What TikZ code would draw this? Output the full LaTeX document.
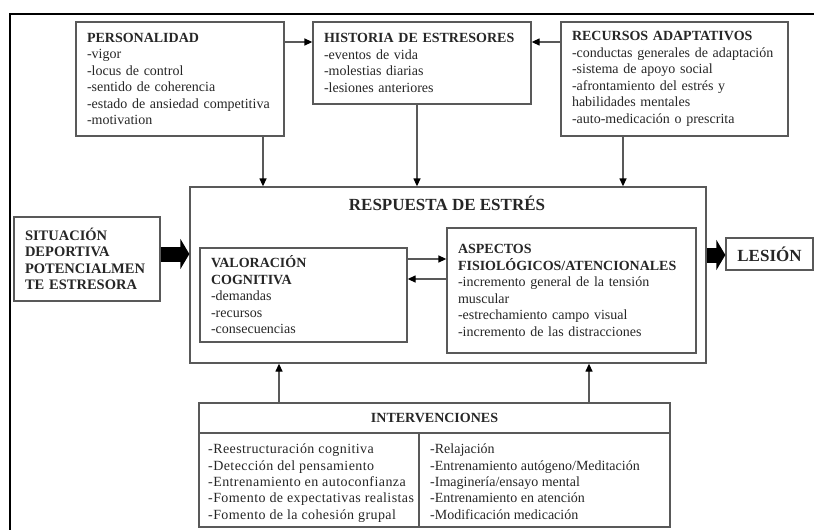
\documentclass[tikz,border=0pt]{standalone}
\usepackage{fontspec}
\setmainfont{Liberation Serif}
\usetikzlibrary{arrows.meta}
\begin{document}
\begin{tikzpicture}[x=1pt,y=-1pt,
  box/.style={draw=black!65, line width=1.3pt, rectangle, inner xsep=11pt, inner ysep=0pt, align=left, text=black!85, font=\fontsize{14}{16.5}\selectfont},
  lst/.style={anchor=north west, inner sep=0pt, align=left, text=black!85, font=\fontsize{14}{16.3}\selectfont},
  arr/.style={draw=black!65, line width=1.3pt, -{Triangle[length=8pt,width=7pt,color=black]}},
  fat/.style={draw=black, line width=15pt, -{Triangle[length=9pt,width=30pt]}}]
\useasboundingbox (0,0) rectangle (814,530);
\coordinate (fbot) at (10,531);
\coordinate (fcorner) at (10,14);
\coordinate (fright) at (815,14);
\draw[line width=2pt] (fbot) -- (fcorner) -- (fright);
\node[box, text width=186pt, minimum height=114pt] (pers) at (180,79){\textbf{PERSONALIDAD}\\-vigor\\-locus de control\\-sentido de coherencia\\-estado de ansiedad competitiva\\-motivation};
\node[box, text width=196pt, minimum height=82pt] (hist) at (422,63){\textbf{HISTORIA DE ESTRESORES}\\-eventos de vida\\-molestias diarias\\-lesiones anteriores\\[16pt]};
\node[box, text width=205pt, minimum height=114pt] (recu) at (674.5,79){\textbf{RECURSOS ADAPTATIVOS}\\-conductas generales de adaptación\\-sistema de apoyo social\\-afrontamiento del estrés y\\habilidades mentales\\-auto-medicación o prescrita};
\node[box, minimum width=516pt, minimum height=176pt] (resp) at (448,275){};
\node[text=black!85, font=\fontsize{17}{18}\selectfont\bfseries] (resptit) at (447,203){RESPUESTA DE ESTRÉS};
\node[box, text width=124pt, minimum height=84pt, font=\fontsize{14.5}{16.5}\selectfont\bfseries] (sit) at (87,259){SITUACIÓN\\DEPORTIVA\\POTENCIALMEN\\TE ESTRESORA};
\node[box, text width=185pt, minimum height=94pt] (valo) at (303.5,295){\textbf{VALORACIÓN}\\\textbf{COGNITIVA}\\-demandas\\-recursos\\-consecuencias};
\node[box, text width=227pt, minimum height=125pt] (asp) at (571.5,290.5){\textbf{ASPECTOS}\\\textbf{FISIOLÓGICOS/ATENCIONALES}\\-incremento general de la tensión\\muscular\\-estrechamiento campo visual\\-incremento de las distracciones\\[4pt]};
\node[box, minimum width=87pt, minimum height=32pt, font=\fontsize{17}{18}\selectfont\bfseries] (les) at (769.5,254){LESIÓN};
\node[box, minimum width=471pt, minimum height=124pt, inner sep=0pt] (interv) at (434.5,465){};
\node[text=black!85, font=\fontsize{14}{16}\selectfont\bfseries] (intervtit) at (434.5,418){INTERVENCIONES};
\coordinate (sepl) at (199,433);
\coordinate (sepr) at (670,433);
\coordinate (divt) at (419,433);
\draw[draw=black!65, line width=1.3pt] (sepl) -- (sepr);
\draw[draw=black!65, line width=1.3pt] (divt) -- (divt |- interv.south);
\node[lst, font=\fontsize{14}{16.3}\selectfont\addfontfeatures{LetterSpace=3}] (intizq) at (208,444){-Reestructuración cognitiva\\-Detección del pensamiento\\-Entrenamiento en autoconfianza\\-Fomento de expectativas realistas\\-Fomento de la cohesión grupal};
\node[lst] (intder) at (430,444){-Relajación\\-Entrenamiento autógeno/Meditación\\-Imaginería/ensayo mental\\-Entrenamiento en atención\\-Modificación medicación};
\draw[arr] (pers.east |- 0,42) -- (hist.west |- 0,42);
\draw[arr] (recu.west |- 0,42) -- (hist.east |- 0,42);
\draw[arr] (263,0 |- pers.south) -- (263,0 |- resp.north);
\draw[arr] (417,0 |- hist.south) -- (417,0 |- resp.north);
\draw[arr] (623,0 |- recu.south) -- (623,0 |- resp.north);
\draw[arr] (279,0 |- interv.north) -- (279,0 |- resp.south);
\draw[arr] (589,0 |- interv.north) -- (589,0 |- resp.south);
\draw[arr] (valo.east |- 0,259) -- (asp.west |- 0,259);
\draw[arr] (asp.west |- 0,279) -- (valo.east |- 0,279);
\draw[fat] (sit.east |- 0,254) -- (resp.west |- 0,254);
\draw[fat] (resp.east |- 0,255) -- (les.west |- 0,255);

\end{tikzpicture}
\end{document}
